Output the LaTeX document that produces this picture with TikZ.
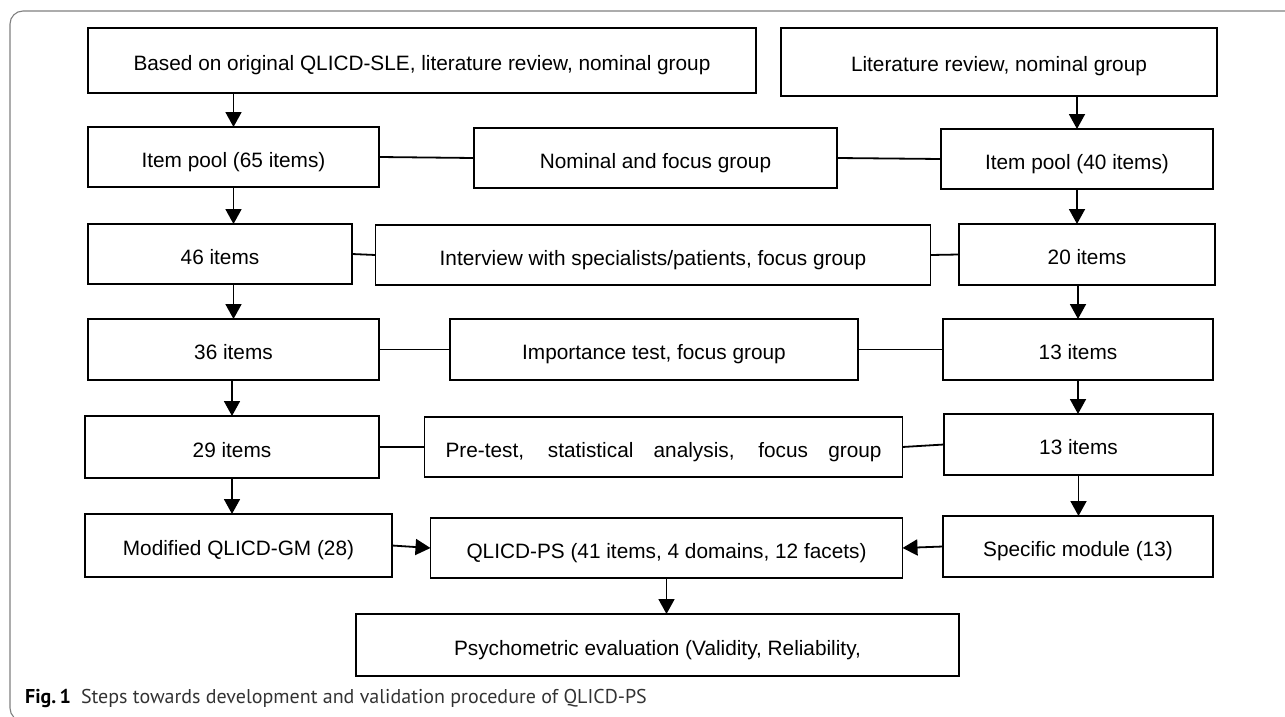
\documentclass[tikz,border=0pt]{standalone}
\usepackage{fontspec}
\setmainfont{Liberation Sans}
\newfontfamily\capfont{PT Sans}
\usetikzlibrary{arrows.meta}
\begin{document}
\begin{tikzpicture}[x=1pt,y=-1pt,
  bx/.style={draw=black, line width=1.9pt, inner sep=0pt, outer sep=0pt,
    font=\fontsize{20.8}{25}\selectfont, text height=20pt, text depth=0pt, align=center},
  ln/.style={line width=1.8pt},
  arr/.style={line width=1.8pt, -{Triangle[length=15pt,width=16pt]}},
  framec/.style={draw=black!50, line width=1.1pt, rounded corners=13pt}
]
\useasboundingbox (0,0) rectangle (1285,717);
\clip (0,0) rectangle (1285,717);
% outer frame
\draw[framec] (1300,721) -- (10,721) -- (10,11) -- (1300,11);

% boxes
\node[bx, minimum width=668pt, minimum height=65pt] (based) at (422,60.5) {Based on original QLICD-SLE, literature review, nominal group};
\node[bx, minimum width=436pt, minimum height=68pt] (lit) at (999,62) {Literature review, nominal group};

\node[bx, minimum width=291pt, minimum height=60pt] (ip65) at (233.5,157) {Item pool (65 items)};
\node[bx, minimum width=363pt, minimum height=60pt] (nom) at (655.5,158) {Nominal and focus group};
\node[bx, minimum width=272pt, minimum height=60pt] (ip40) at (1077,159) {Item pool (40 items)};

\node[bx, minimum width=264pt, minimum height=60pt] (i46) at (220,254) {46 items};
\node[bx, minimum width=555pt, minimum height=60pt] (intv) at (653,255) {Interview with specialists/patients, focus group};
\node[bx, minimum width=256pt, minimum height=61pt] (i20) at (1087,254.5) {20 items};

\node[bx, minimum width=291pt, minimum height=61pt] (i36) at (233.5,349.5) {36 items};
\node[bx, minimum width=408pt, minimum height=61pt] (imp) at (654,349.5) {Importance test, focus group};
\node[bx, minimum width=270pt, minimum height=61pt] (i13a) at (1078,349.5) {13 items};

\node[bx, minimum width=294pt, minimum height=62pt] (i29) at (232,447) {29 items};
\node[bx, minimum width=478pt, minimum height=60pt] (pre) at (663.5,447) {\makebox[436pt][s]{Pre-test, statistical analysis, focus group}};
\node[bx, minimum width=269pt, minimum height=61pt] (i13b) at (1078.5,444.5) {13 items};

\node[bx, minimum width=307pt, minimum height=63pt] (mod) at (238.5,545.5) {Modified QLICD-GM (28)};
\node[bx, minimum width=472pt, minimum height=60pt] (qps) at (666.5,548) {QLICD-PS (41 items, 4 domains, 12 facets)};
\node[bx, minimum width=270pt, minimum height=61pt] (spec) at (1078,546.5) {Specific module (13)};

\node[bx, minimum width=603pt, minimum height=62pt] (psy) at (657.5,645) {Psychometric evaluation (Validity, Reliability,};

% left column arrows
\draw[arr] (based.south -| ip65.north) -- (ip65.north);
\draw[arr] (ip65.south) -- (ip65.south |- i46.north);
\draw[arr] (i46.south -| i36.north) -- (i36.north);
\draw[arr] (i36.south -| i29.north) -- (i29.north);
\draw[arr] (i29.south) -- (i29.south |- mod.north);

% right column arrows
\draw[arr] (lit.south -| ip40.north) -- (ip40.north);
\draw[arr] (ip40.south) -- (ip40.south |- i20.north);
\draw[arr] (i13a.north |- i20.south) -- (i13a.north);
\draw[arr] (i13a.south) -- (i13a.south |- i13b.north);
\draw[arr] (i13b.south) -- (i13b.south |- spec.north);

% horizontal connectors
\draw[ln] (ip65.east) -- (nom.west);
\draw[ln] (nom.east) -- (ip40.west);
\draw[ln] (i46.east) -- (intv.west);
\draw[ln] (intv.east) -- (i20.west);
\draw[ln] (i36.east) -- (imp.west);
\draw[ln] (imp.east) -- (i13a.west);
\draw[ln] (i29.east) -- (pre.west);
\draw[ln] (pre.east) -- (i13b.west);
\draw[arr] (mod.east) -- (qps.west);
\draw[arr] (spec.west) -- (qps.east);
\draw[arr] (qps.south) -- (qps.south |- psy.north);

% caption
\node[anchor=base west, inner sep=0pt] (cap) at (25,703) {\capfont\fontsize{20}{24}\selectfont\textbf{Fig.\,1}\hspace{10pt}\color{black!80}Steps towards development and validation procedure of QLICD-PS};
\end{tikzpicture}
\end{document}
